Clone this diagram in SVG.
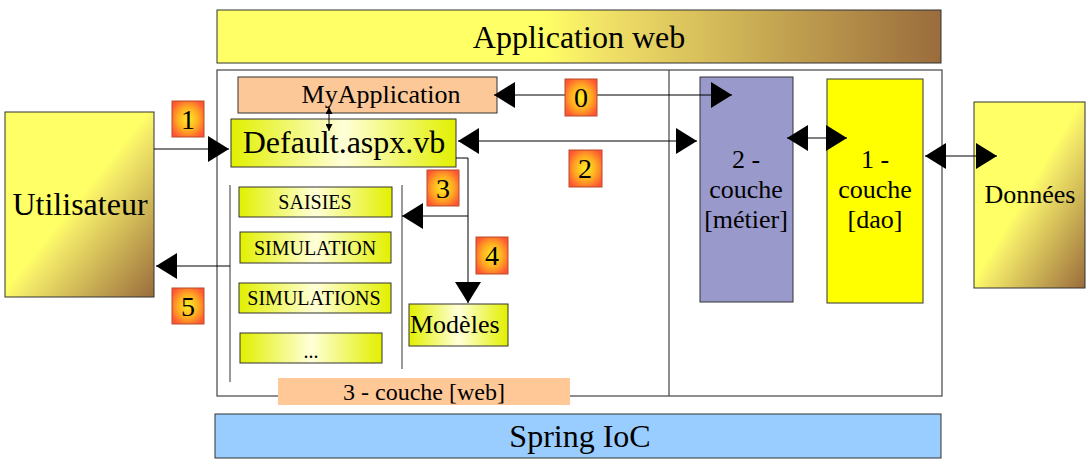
<svg xmlns="http://www.w3.org/2000/svg" width="1088" height="462" viewBox="0 0 1088 462">
<style>
text{font-family:"Liberation Serif","Times New Roman",serif;fill:#000}
.c{text-anchor:middle}
.box{stroke:#333;stroke-width:1}
.conn{stroke:#000;stroke-width:1;fill:none}
.sep{stroke:#555;stroke-width:1.2;fill:none}
.badge{fill:url(#gBadge);stroke:#b84a2a;stroke-width:1}
</style>
<defs>
<linearGradient id="gGold" x1="0" y1="0" x2="1" y2="1">
<stop offset="0" stop-color="#ffff66"/><stop offset="0.48" stop-color="#ffff66"/><stop offset="0.55" stop-color="#f2e868"/><stop offset="1" stop-color="#9a6c3c"/>
</linearGradient>
<linearGradient id="gGoldH" x1="0" y1="0" x2="1" y2="0">
<stop offset="0" stop-color="#ffff66"/><stop offset="0.45" stop-color="#ffff66"/><stop offset="0.55" stop-color="#eedd66"/><stop offset="1" stop-color="#9a6c3c"/>
</linearGradient>
<linearGradient id="gLime" x1="0" y1="0" x2="1" y2="0">
<stop offset="0" stop-color="#e2f000"/><stop offset="0.5" stop-color="#ffffd8"/><stop offset="1" stop-color="#e2f000"/>
</linearGradient>
<radialGradient id="gBadge" cx="0.5" cy="0.5" r="0.6">
<stop offset="0" stop-color="#ffee22"/><stop offset="0.55" stop-color="#ffaa22"/><stop offset="1" stop-color="#ff5533"/>
</radialGradient>
<marker id="ah" viewBox="0 0 21 26" refX="21" refY="13" markerWidth="21" markerHeight="26" markerUnits="userSpaceOnUse" orient="auto-start-reverse">
<path d="M0,0 L21,13 L0,26 z" fill="#000"/>
</marker>
<marker id="as" viewBox="0 0 7 7" refX="7" refY="3.5" markerWidth="7" markerHeight="7" markerUnits="userSpaceOnUse" orient="auto-start-reverse">
<path d="M0,0 L7,3.5 L0,7 z" fill="#000"/>
</marker>
</defs>
<rect width="1088" height="462" fill="#fff"/>

<g id="appweb">
<rect class="box" x="217" y="10" width="724" height="53" fill="url(#gGoldH)"/>
<text class="c" x="579" y="48" font-size="32">Application web</text>
</g>

<g id="container">
<rect x="217" y="70" width="725" height="326" fill="none" stroke="#444" stroke-width="1.2"/>
<line x1="669" y1="70" x2="669" y2="396" stroke="#444" stroke-width="1.2"/>
<line class="sep" x1="230" y1="185" x2="230" y2="382"/>
<line class="sep" x1="402" y1="185" x2="402" y2="369"/>
</g>

<g id="utilisateur">
<rect class="box" x="5" y="112" width="149" height="185" fill="url(#gGold)"/>
<text class="c" x="80" y="215" font-size="32">Utilisateur</text>
</g>

<g id="myapplication">
<rect class="box" x="238" y="77" width="259" height="36" fill="#fdc898" stroke="#555"/>
<text class="c" x="381" y="103" font-size="26">MyApplication</text>
</g>

<g id="default">
<rect class="box" x="231" y="119" width="225" height="48" fill="url(#gLime)"/>
<text class="c" x="344" y="153" font-size="32">Default.aspx.vb</text>
</g>

<g id="saisies">
<rect class="box" x="239" y="187" width="153" height="30" fill="url(#gLime)"/>
<text class="c" x="315" y="209" font-size="20">SAISIES</text>
</g>
<g id="simulation">
<rect class="box" x="240" y="232" width="151" height="31" fill="url(#gLime)"/>
<text class="c" x="315" y="255" font-size="20">SIMULATION</text>
</g>
<g id="simulations">
<rect class="box" x="239" y="283" width="152" height="30" fill="url(#gLime)"/>
<text class="c" x="314" y="305" font-size="20">SIMULATIONS</text>
</g>
<g id="autres">
<rect class="box" x="240" y="333" width="142" height="30" fill="url(#gLime)"/>
<text class="c" x="311" y="358" font-size="20">...</text>
</g>

<g id="modeles">
<rect class="box" x="409" y="304" width="99" height="42" fill="url(#gLime)"/>
<text x="410" y="333" font-size="26">Modèles</text>
</g>

<g id="webcouche">
<rect x="278" y="378" width="292" height="27" fill="#ffc896"/>
<text class="c" x="424" y="400" font-size="24">3 - couche [web]</text>
</g>

<g id="metier">
<rect class="box" x="700" y="77" width="93" height="225" fill="#9999cc"/>
<text class="c" x="746" y="168" font-size="26">2 -</text>
<text class="c" x="746" y="198" font-size="26">couche</text>
<text class="c" x="746" y="228" font-size="26">[métier]</text>
</g>

<g id="dao">
<rect class="box" x="827" y="79" width="96" height="224" fill="#ffff00"/>
<text class="c" x="875" y="168" font-size="26">1 -</text>
<text class="c" x="875" y="198" font-size="26">couche</text>
<text class="c" x="875" y="228" font-size="26">[dao]</text>
</g>

<g id="donnees">
<rect class="box" x="974" y="102" width="111" height="186" fill="url(#gGold)"/>
<text class="c" x="1030" y="203" font-size="26">Données</text>
</g>

<g id="springioc">
<rect class="box" x="215" y="414" width="726" height="44" fill="#99ccff" stroke="#555"/>
<text class="c" x="580" y="447" font-size="32">Spring IoC</text>
</g>

<g id="connectors">
<line class="conn" x1="154" y1="149" x2="229" y2="149" marker-end="url(#ah)"/>
<line class="conn" x1="230" y1="266" x2="156" y2="266" marker-end="url(#ah)"/>
<line class="conn" x1="494" y1="95" x2="732" y2="95" marker-start="url(#ah)" marker-end="url(#ah)"/>
<line class="conn" x1="458" y1="141" x2="697" y2="141" marker-start="url(#ah)" marker-end="url(#ah)"/>
<line class="conn" x1="329" y1="107" x2="329" y2="131" marker-start="url(#as)" marker-end="url(#as)"/>
<path class="conn" d="M456,158 H468 V303" marker-end="url(#ah)"/>
<line class="conn" x1="468" y1="216" x2="402" y2="216" marker-end="url(#ah)"/>
<line class="conn" x1="787" y1="138" x2="847" y2="138" marker-start="url(#ah)" marker-end="url(#ah)"/>
<line class="conn" x1="925" y1="156" x2="997" y2="156" marker-start="url(#ah)" marker-end="url(#ah)"/>
</g>

<g id="badge0"><rect class="badge" x="565" y="79" width="32" height="37"/><text class="c" x="581" y="107" font-size="28">0</text></g>
<g id="badge1"><rect class="badge" x="172" y="101" width="32" height="36"/><text class="c" x="188" y="129" font-size="28">1</text></g>
<g id="badge2"><rect class="badge" x="569" y="150" width="33" height="37"/><text class="c" x="585" y="178" font-size="28">2</text></g>
<g id="badge3"><rect class="badge" x="427" y="170" width="32" height="36"/><text class="c" x="443" y="198" font-size="28">3</text></g>
<g id="badge4"><rect class="badge" x="476" y="237" width="32" height="37"/><text class="c" x="492" y="265" font-size="28">4</text></g>
<g id="badge5"><rect class="badge" x="172" y="288" width="32" height="36"/><text class="c" x="188" y="316" font-size="28">5</text></g>
</svg>
